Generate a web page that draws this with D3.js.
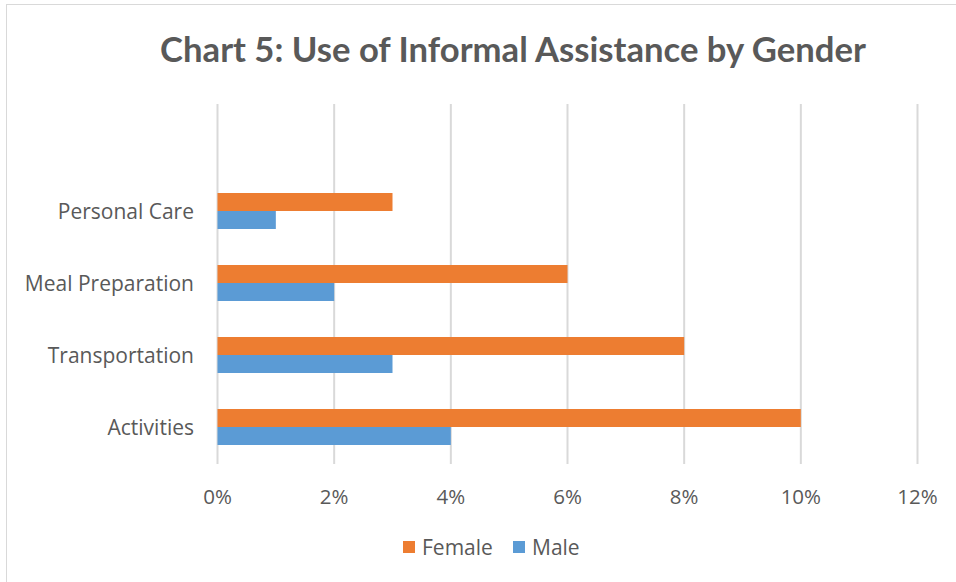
<!DOCTYPE html>
<html>
<head>
<meta charset="utf-8">
<script src="https://cdn.jsdelivr.net/npm/d3@7"></script>
<style>
  html, body { margin: 0; padding: 0; background: #fff; }
  #chart { width: 956px; height: 582px; }
  text { font-family: "Open Sans", sans-serif; fill: #595959; }
</style>
</head>
<body>
<div id="chart"></div>
<script>
// values, top to bottom
const categories = ["Personal Care", "Meal Preparation", "Transportation", "Activities"];
const female = [3, 6, 8, 10];
const male   = [1, 2, 3, 4];
const series = ["Female", "Male"];
const ticks  = [0, 2, 4, 6, 8, 10, 12];

const width = 956, height = 582;
const colors = {Female: '#ED7D31', Male: '#5B9BD5'};

const svg = d3.select("#chart").append("svg")
  .attr("width", width).attr("height", height);

// chart frame
svg.append("rect")
  .attr("x", 6.5).attr("y", 4.5)
  .attr("width", width + 10).attr("height", height + 10)
  .attr("fill", "none").attr("stroke", "#d9d9d9");

const x = d3.scaleLinear().domain([0, 12]).range([217.5, 917.5]);
const y = d3.scaleBand().domain(categories).range([175, 463]);
const yInner = d3.scaleBand().domain(series)
  .range([y.bandwidth() * 0.25, y.bandwidth() * 0.75]);

// gridlines
svg.append("g")
  .selectAll("line")
  .data(ticks)
  .join("line")
    .attr("x1", d => x(d)).attr("x2", d => x(d))
    .attr("y1", 104).attr("y2", 464)
    .attr("stroke", "#d9d9d9").attr("stroke-width", 2);

// bars
const rows = categories.map((c, i) => ({cat: c, Female: female[i], Male: male[i]}));
svg.append("g")
  .selectAll("g")
  .data(rows)
  .join("g")
    .attr("transform", d => `translate(0,${y(d.cat)})`)
  .selectAll("rect")
  .data(d => series.map(s => ({s, v: d[s]})))
  .join("rect")
    .attr("x", x(0))
    .attr("y", d => yInner(d.s))
    .attr("width", d => x(d.v) - x(0))
    .attr("height", yInner.bandwidth())
    .attr("fill", d => colors[d.s]);

// x tick labels
svg.append("g")
  .selectAll("text")
  .data(ticks)
  .join("text")
    .attr("x", d => x(d)).attr("y", 504)
    .attr("text-anchor", "middle")
    .attr("font-size", 20.5)
    .text(d => d + "%");

// category labels
svg.append("g")
  .selectAll("text")
  .data(categories)
  .join("text")
    .attr("x", 194).attr("y", d => y(d) + y.bandwidth() / 2 + 7.5)
    .attr("text-anchor", "end")
    .attr("font-size", 21)
    .text(d => d);

// title
const title = svg.append("text")
  .attr("x", 513).attr("y", 62)
  .attr("text-anchor", "middle")
  .attr("font-size", 32)
  .attr("font-weight", "bold")
  .style("font-family", "Lato, sans-serif")
  .text("Chart 5: Use of Informal Assistance by Gender");
const tw = title.node().getComputedTextLength();
title.attr("font-size", 32 * 706 / tw);

// legend
const legendX = [403, 513];
const legend = svg.append("g")
  .selectAll("g")
  .data(series)
  .join("g")
    .attr("transform", (d, i) => `translate(${legendX[i]},541)`);
legend.append("rect")
  .attr("width", 12).attr("height", 12)
  .attr("fill", d => colors[d]);
legend.append("text")
  .attr("x", 19).attr("y", 13.5)
  .attr("font-size", 21)
  .text(d => d);
</script>
</body>
</html>
